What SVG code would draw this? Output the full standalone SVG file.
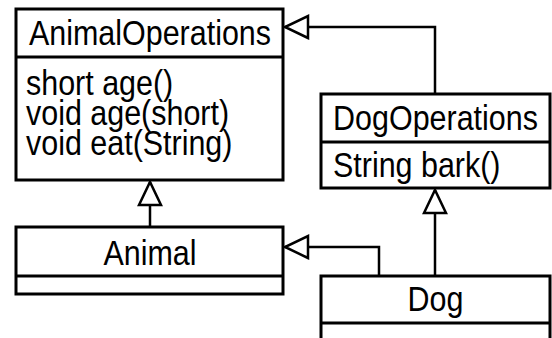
<svg xmlns="http://www.w3.org/2000/svg" width="552" height="338" viewBox="0 0 552 338">
<style>
.box{fill:#fff;stroke:#000;stroke-width:3}
.div{stroke:#000;stroke-width:3}
.t{font-family:"Liberation Sans",Arial,Helvetica,sans-serif;font-size:35px;fill:#000}
.c{text-anchor:middle}
.edge{fill:none;stroke:#000;stroke-width:2.5}
</style>
<defs>
<marker id="gen" markerUnits="userSpaceOnUse" markerWidth="30" markerHeight="30" refX="24" refY="12" orient="auto" overflow="visible">
<path d="M1,1 L24,12 L1,23 Z" fill="#fff" stroke="#000" stroke-width="2.5"/>
</marker>
</defs>
<rect width="552" height="338" fill="#fff"/>
<g id="AnimalOperations">
<rect class="box" x="16" y="9" width="267" height="171"/>
<line class="div" x1="16" y1="57" x2="283" y2="57"/>
<text class="t c" transform="translate(150 45) scale(0.87 1)">AnimalOperations</text>
<text class="t" transform="translate(26 95) scale(0.87 1)">short age()</text>
<text class="t" transform="translate(26 125) scale(0.87 1)">void age(short)</text>
<text class="t" transform="translate(26 155) scale(0.87 1)">void eat(String)</text>
</g>
<g id="DogOperations">
<rect class="box" x="321" y="94" width="229" height="94"/>
<line class="div" x1="321" y1="142" x2="550" y2="142"/>
<text class="t c" transform="translate(435.5 130) scale(0.87 1)">DogOperations</text>
<text class="t" transform="translate(333 177) scale(0.87 1)">String bark()</text>
</g>
<g id="Animal">
<rect class="box" x="16" y="227" width="267" height="67"/>
<line class="div" x1="16" y1="276" x2="283" y2="276"/>
<text class="t c" transform="translate(150 265) scale(0.87 1)">Animal</text>
</g>
<g id="Dog">
<rect class="box" x="321" y="276" width="229" height="80"/>
<line class="div" x1="321" y1="323" x2="550" y2="323"/>
<text class="t c" transform="translate(435.5 311) scale(0.87 1)">Dog</text>
</g>
<g id="connectors">
<path class="edge" d="M435,94 V27 H285" marker-end="url(#gen)"/>
<path class="edge" d="M150,227 V182" marker-end="url(#gen)"/>
<path class="edge" d="M435,276 V190" marker-end="url(#gen)"/>
<path class="edge" d="M379,276 V247 H285" marker-end="url(#gen)"/>
</g>
</svg>
